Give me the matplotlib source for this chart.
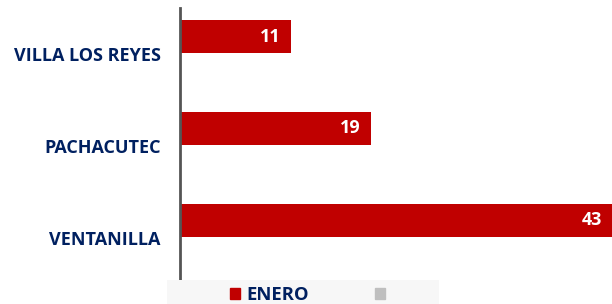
import matplotlib.pyplot as plt
from matplotlib.patches import Patch, Rectangle

categories = ['VILLA LOS REYES', 'PACHACUTEC', 'VENTANILLA']
enero = [11, 19, 43]
serie2 = [0, 0, 0]  # second series, empty in the source chart

navy = '#002060'
red = '#c00000'
gray = '#bfbfbf'

plt.rcParams['font.family'] = ['Open Sans', 'DejaVu Sans']

fig = plt.figure(figsize=(6.12, 3.04), dpi=100)
ax = fig.add_axes([180 / 612, 21 / 304, 432 / 612, 275 / 304])

y = list(range(len(categories)))
h = 0.36
bars = ax.barh([i - 0.19 for i in y], enero, height=h, color=red)
ax.barh([i + 0.19 for i in y], serie2, height=h, color=gray)
ax.set_xlim(0, 43)
ax.set_ylim(2.49, -0.5)

for b, v in zip(bars, enero):
    ax.text(b.get_width() - 1.0, b.get_y() + b.get_height() / 2, str(v),
            ha='right', va='center', color='white', fontsize=13, fontweight='bold')

ax.set_yticks(y)
ax.set_yticklabels(categories, color=navy, fontsize=13, fontweight='bold')
ax.tick_params(axis='y', length=0, pad=14)
ax.set_xticks([])
for s in ['top', 'right', 'bottom']:
    ax.spines[s].set_visible(False)
ax.spines['left'].set_color('#555555')
ax.spines['left'].set_linewidth(2)

# legend strip at the bottom
fig.patches.append(Rectangle((167 / 612, 0), 272 / 612, 24 / 304, transform=fig.transFigure,
                             facecolor='#f7f7f7', edgecolor='none', zorder=0))
handles = [Patch(color=red), Patch(color=gray)]
leg = fig.legend(handles, ['ENERO', ''], loc='lower left', bbox_to_anchor=(230 / 612, 0),
                 ncol=2, frameon=False, handlelength=0.55, handleheight=0.55,
                 handletextpad=0.35, columnspacing=3.55, borderpad=0, borderaxespad=0,
                 prop={'weight': 'bold', 'size': 13.3})
for t in leg.get_texts():
    t.set_color(navy)

fig.savefig('out.png', dpi=100)
